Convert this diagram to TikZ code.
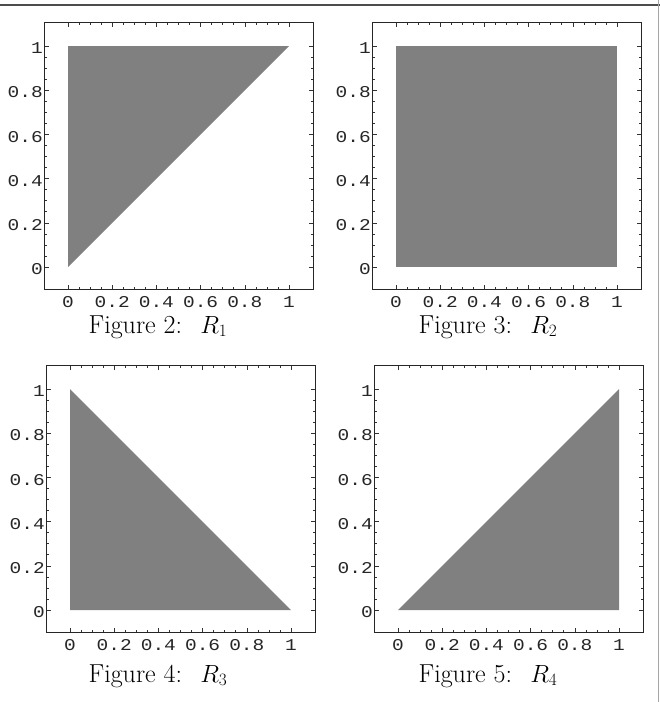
\documentclass[tikz,border=0pt]{standalone}
\usepackage{fontspec}
\newfontfamily\tickfont{Liberation Mono}
\begin{document}
\begin{tikzpicture}[x=1pt,y=-1pt,
  framebox/.style={draw=black!85,line width=1.1pt},
  region/.style={fill=black!50,draw=none},
  ticklab/.style={font=\tickfont\fontsize{16.5}{18}\selectfont,inner sep=0pt,text=black!85,xscale=1.18},
  tickmark/.style={draw=black!80,line width=0.6pt},
  caplabel/.style={font=\fontsize{26}{30}\selectfont,inner sep=0pt,anchor=base},
  rule/.style={draw=black!70,line width=1.6pt}]
\useasboundingbox (0,0) rectangle (660,702);
\fill[white] (0,0) rectangle (660,702);
% page rules
\coordinate (tl) at (0,5);
\coordinate (tr) at (660,5);
\draw[rule] (tl) -- (tr);
\coordinate (rt) at (658,0);
\coordinate (rb) at (658,702);
\draw[draw=black!35,line width=1pt] (rt) -- (rb);
% panels
\foreach \ox/\oy/\k/\capx/\capy/\cap in {68/267/1/158/333/{Figure 2: \ $R_1$},396/267/2/488/333/{Figure 3: \ $R_2$},70/610/3/158/682/{Figure 4: \ $R_3$},398/610/4/488/682/{Figure 5: \ $R_4$}}{
  \node[caplabel] (cap\k) at (\capx,\capy) {\cap};
  \begin{scope}[shift={(\ox,\oy)},x=221pt,y=221pt]
    \ifcase\k\or
      \fill[region] (0,0) -- (0,1) -- (1,1) -- cycle;
    \or
      \fill[region] (0,0) rectangle (1,1);
    \or
      \fill[region] (0,0) -- (0,1) -- (1,0) -- cycle;
    \or
      \fill[region] (0,0) -- (1,0) -- (1,1) -- cycle;
    \fi
    \coordinate (fa\k) at (-0.105,-0.1);
    \coordinate (fb\k) at (1.11,1.105);
    \draw[framebox] (fa\k) rectangle (fb\k);
    \foreach \t in {0,0.2,0.4,0.6,0.8,1}{
      \draw[tickmark] (\t,-0.1) -- ++(0,0.02);
      \draw[tickmark] (\t,1.105) -- ++(0,-0.02);
      \draw[tickmark] (-0.105,\t) -- ++(0.02,0);
      \draw[tickmark] (1.11,\t) -- ++(-0.02,0);
    }
    \foreach \t in {0.05,0.1,0.15,0.25,0.3,0.35,0.45,0.5,0.55,0.65,0.7,0.75,0.85,0.9,0.95}{
      \draw[tickmark] (\t,-0.1) -- ++(0,0.01);
      \draw[tickmark] (\t,1.105) -- ++(0,-0.01);
      \draw[tickmark] (-0.105,\t) -- ++(0.01,0);
      \draw[tickmark] (1.11,\t) -- ++(-0.01,0);
    }
    \foreach \t/\lab/\n in {0/0/a,0.2/0.2/b,0.4/0.4/c,0.6/0.6/d,0.8/0.8/e,1/1/f}{
      \node[ticklab] (x\k\n) at (\t,-0.16) {\lab};
      \node[ticklab,anchor=east] (y\k\n) at (-0.113,\t-0.01) {\lab};
    }
  \end{scope}
}
\end{tikzpicture}
\end{document}
